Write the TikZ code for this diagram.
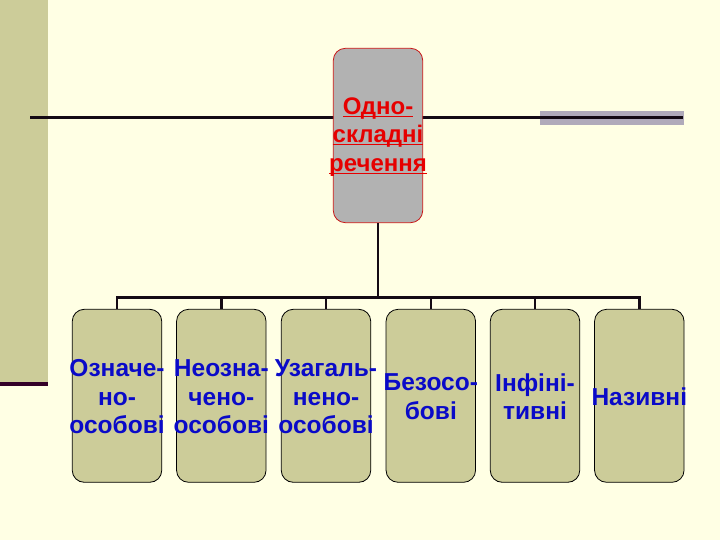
\documentclass[tikz,border=0pt]{standalone}
\usepackage{fontspec}
\setmainfont{Liberation Sans}
\definecolor{bgc}{RGB}{255,255,228}
\definecolor{bandc}{RGB}{204,204,153}
\definecolor{purp}{RGB}{51,0,40}
\definecolor{barc}{RGB}{176,170,186}
\definecolor{linec}{RGB}{20,10,20}
\definecolor{topfill}{RGB}{178,178,178}
\definecolor{topedge}{RGB}{200,20,20}
\definecolor{redtxt}{RGB}{230,0,0}
\definecolor{boxfill}{RGB}{204,204,153}
\definecolor{bluetxt}{RGB}{10,10,200}
\newcommand\ctr[1]{\makebox[0pt][c]{#1}}
\newcommand\myul[1]{\underline{\smash{#1}}}
\tikzset{
  topbox/.style={draw=topedge, line width=0.8pt, fill=topfill, rounded corners=12pt,
    minimum width=89.4pt, minimum height=174.4pt, inner sep=0pt, align=center,
    text=redtxt, font=\bfseries\fontsize{24}{28.5}\selectfont},
  leafbox/.style={draw=black, line width=0.8pt, fill=boxfill, rounded corners=12pt,
    minimum width=89.5pt, minimum height=173pt, inner sep=0pt, align=center,
    text=bluetxt, font=\bfseries\fontsize{24.5}{28.5}\selectfont},
  conn/.style={draw=linec, line width=2.4pt}
}
\begin{document}
\begin{tikzpicture}[x=1pt,y=-1pt]
\useasboundingbox (0,0) rectangle (720,540);
\fill[bgc] (0,0) rectangle (720,540);
\fill[bandc] (0,0) rectangle (48,382);
\fill[purp] (0,382) rectangle (48,386);
\fill[barc] (540,111) rectangle (684,125);
\coordinate (L) at (30,117.5);
\coordinate (R) at (683,117.5);
\draw[conn] (L) -- (R);
\node[topbox] (top) at (378,135.5) {\rule{0pt}{17pt}\ctr{\myul{Одно-}}\\\ctr{\myul{складні}}\\\ctr{\myul{речення}}};
\coordinate (bar) at (378,297.3);
\node[leafbox] (b1) at (117,395.8) {\rule{0pt}{19pt}\ctr{Означе-}\\\ctr{но-}\\\ctr{особові}};
\node[leafbox] (b2) at (221.3,395.8) {\rule{0pt}{19pt}\ctr{Неозна-}\\\ctr{чено-}\\\ctr{особові}};
\node[leafbox] (b3) at (326,395.8) {\rule{0pt}{19pt}\ctr{Узагаль-}\\\ctr{нено-}\\\ctr{особові}};
\node[leafbox] (b4) at (430.8,395.8) {\rule{0pt}{19pt}\ctr{Безосо-}\\\ctr{бові}};
\node[leafbox] (b5) at (535,395.8) {\rule{0pt}{19pt}\ctr{Інфіні-}\\\ctr{тивні}};
\node[leafbox] (b6) at (639.3,395.8) {\rule{0pt}{19pt}\ctr{Називні}};
\foreach \b in {b1,b2,b3,b4,b5,b6}{
  \draw[conn] (\b.north) -- (\b.north |- bar) -| (top.south);
}
\end{tikzpicture}
\end{document}
